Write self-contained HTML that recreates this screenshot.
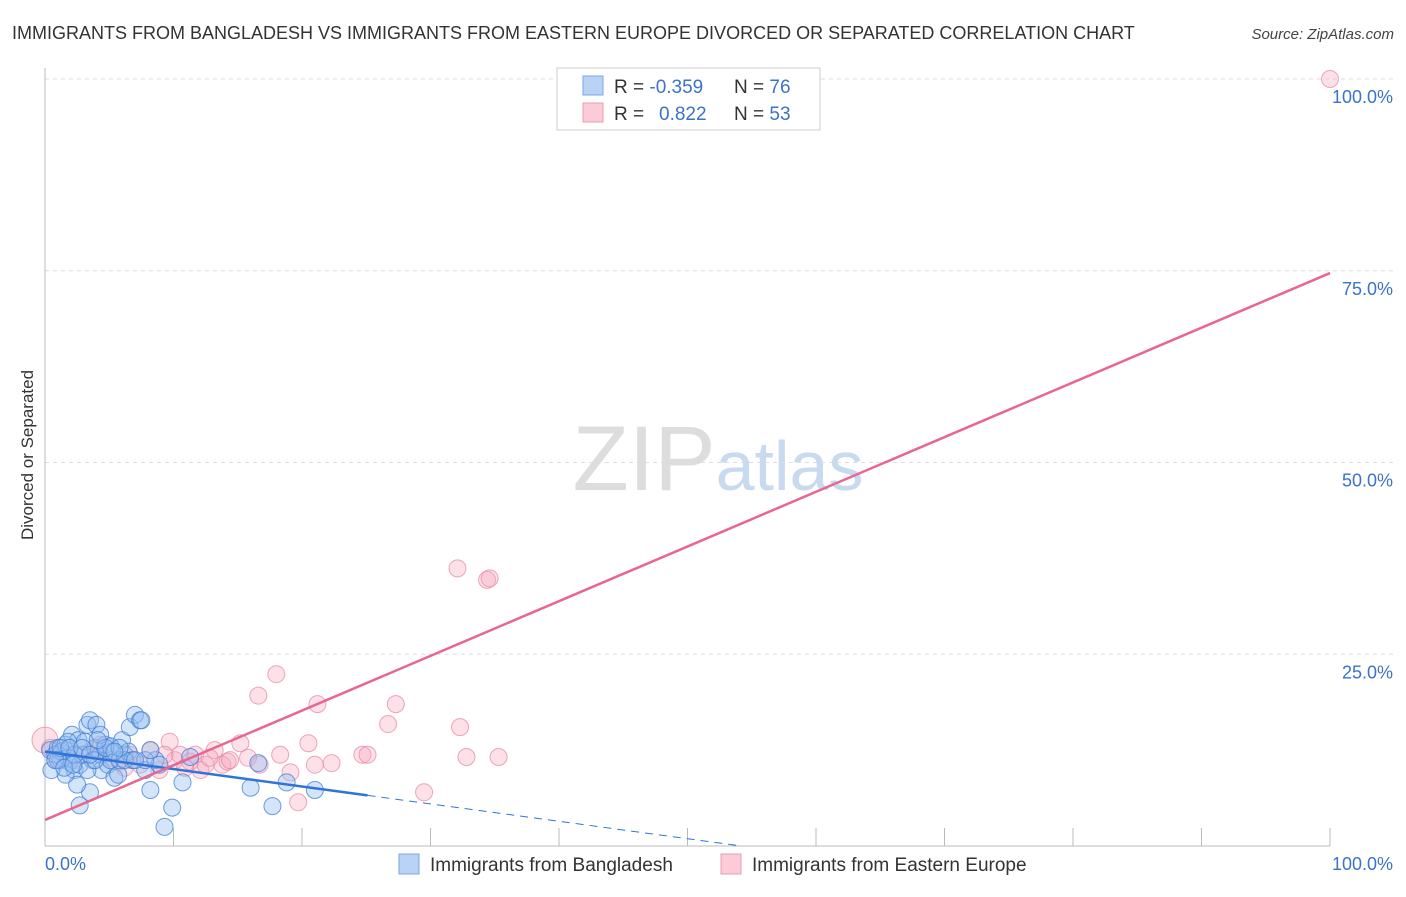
<!DOCTYPE html>
<html><head><meta charset="utf-8"><style>
body{margin:0;background:#fff;font-family:"Liberation Sans",sans-serif;}
svg text{font-family:"Liberation Sans",sans-serif;}
</style></head><body>
<svg id="chart" width="1406" height="892" xmlns="http://www.w3.org/2000/svg">
<text x="12" y="39" font-size="18" fill="#333">IMMIGRANTS FROM BANGLADESH VS IMMIGRANTS FROM EASTERN EUROPE DIVORCED OR SEPARATED CORRELATION CHART</text>
<text x="1394" y="39" font-size="15" fill="#444" font-style="italic" text-anchor="end">Source: ZipAtlas.com</text>
<text x="718" y="490" font-size="92" fill="#ddd" text-anchor="middle" font-family="Liberation Serif"><tspan fill="#ddd">ZIP</tspan><tspan fill="#c8daf0" font-family="Liberation Sans" font-size="70">atlas</tspan></text>
<g id="grid"></g>
<g id="axes"></g>
<g id="pts"></g>
<g id="lines"></g>
<text transform="translate(33,455) rotate(-90)" font-size="17" fill="#333" text-anchor="middle">Divorced or Separated</text>
<g>
<rect x="557" y="68" width="263" height="62" fill="#fff" stroke="#ccc"/>
<rect x="583" y="76" width="20" height="19" fill="#b8d3f5" stroke="#7aa8e6"/>
<rect x="583" y="103" width="20" height="19" fill="#fbcbd8" stroke="#ee9ab3"/>
<text x="614" y="93" font-size="19" fill="#333">R = <tspan fill="#3a73c9">-0.359</tspan><tspan x="734">N = </tspan><tspan fill="#3a73c9">76</tspan></text>
<text x="614" y="120" font-size="19" fill="#333">R = <tspan x="659" fill="#3a73c9">0.822</tspan><tspan x="734">N = </tspan><tspan fill="#3a73c9">53</tspan></text>
</g>
<g>
<rect x="399" y="854" width="20" height="20" fill="#b8d3f5" stroke="#7aa8e6"/>
<text x="430" y="871" font-size="19" fill="#333">Immigrants from Bangladesh</text>
<rect x="721" y="854" width="20" height="20" fill="#fbcbd8" stroke="#ee9ab3"/>
<text x="752" y="871" font-size="19" fill="#333">Immigrants from Eastern Europe</text>
</g>
</svg>
<script>
const yTicks=[25,50,75,100];
const yTickLabels=["25.0%","50.0%","75.0%","100.0%"];
const xLabels=["0.0%","100.0%"];
const blueX=[0.4,0.8,1.0,1.2,1.3,1.6,1.8,1.9,2.1,2.3,2.6,2.7,2.9,3.1,3.3,3.5,3.7,3.9,4.0,4.3,4.4,4.7,4.9,5.1,5.2,5.4,5.7,5.8,6.0,6.2,6.5,6.6,6.8,7.0,7.4,7.5,7.8,8.2,8.6,8.9,9.3,9.9,10.7,11.3,16.0,16.6,17.7,18.8,21.0,2.7,3.5,2.5,1.6,0.5,1.8,4.3,1.0,5.1,6.2,7.8,3.3,1.2,2.3,3.9,4.7,1.9,5.8,7.0,8.2,0.8,2.9,4.1,5.4,1.5,2.2,3.5];
const blueY=[12.5,11.9,12.8,11.2,12.3,13.2,11.5,11.0,14.5,9.9,13.8,10.6,11.9,13.6,15.8,16.4,11.2,12.8,15.8,11.9,9.9,13.2,10.6,11.2,12.3,8.9,9.3,11.2,13.8,11.9,12.3,15.5,11.2,17.1,16.4,16.4,9.9,7.3,11.2,10.6,2.5,5.0,8.3,11.6,7.6,10.8,5.2,8.3,7.3,5.3,7.0,8.0,9.3,9.9,13.6,14.5,11.2,13.0,11.2,11.2,9.9,12.8,11.9,11.2,12.8,12.8,12.8,11.2,12.5,11.2,12.8,13.8,12.3,10.2,10.6,11.9];
const pinkX=[0,0.4,1.2,2.3,3.1,3.9,5.1,5.8,6.6,7.4,8.2,8.9,9.7,10.1,10.5,11.3,11.7,12.1,12.5,13.2,13.8,14.2,15.2,15.8,16.6,16.7,18.0,18.3,19.1,19.7,20.5,21.0,21.2,22.3,24.7,25.1,26.7,27.3,29.5,32.1,32.3,32.8,34.4,34.6,35.3,100,0.8,4.3,6.2,14.4,12.8,10.9,9.3];
const pinkY=[13.8,12.8,12.3,11.2,11.9,12.5,11.5,11.0,11.9,10.6,12.5,9.9,13.6,11.2,11.9,11.0,11.9,9.9,10.6,12.5,10.6,11.0,13.4,11.5,19.6,10.6,22.4,11.9,9.6,5.7,13.4,10.6,18.5,10.8,11.9,11.9,15.9,18.5,7.0,36.2,15.5,11.6,34.7,34.9,11.6,100,11.2,13.2,10.2,11.2,11.5,10.2,11.9];
const blueFit=[12.3,-0.227];
const pinkFit=[3.4,0.713];
const blueSolidEnd=25.1;
const NS="http://www.w3.org/2000/svg";
const X0=45,X1=1330,Y0=846,Y100=79;
const sx=v=>X0+(X1-X0)*v/100;
const sy=v=>Y0-(Y0-Y100)*v/100;
function mk(tag,attrs,parent){const e=document.createElementNS(NS,tag);for(const k in attrs)e.setAttribute(k,attrs[k]);parent.appendChild(e);return e;}
const grid=document.getElementById('grid'),axes=document.getElementById('axes');
yTicks.forEach((t,i)=>{
 const l=mk('line',{x1:X0,x2:1394,y1:sy(t),y2:sy(t),stroke:'#ddd','stroke-dasharray':'4,4'},grid);
 
 
 const tx=mk('text',{x:1393,y:sy(t)+24,'font-size':18,fill:'#3a73c9','text-anchor':'end'},axes);
 tx.textContent=yTickLabels[i];
 
 
});
const ax=mk('line',{x1:X0,x2:X0,y1:68,y2:Y0,stroke:'#bbb'},axes);


const bx=mk('line',{x1:X0,x2:X1,y1:Y0,y2:Y0,stroke:'#bbb'},axes);


for(let i=1;i<=10;i++){const t=mk('line',{x1:sx(i*10),x2:sx(i*10),y1:Y0-18,y2:Y0,stroke:'#bbb'},axes);
 
 }
[[0,'start',45],[100,'end',1393]].forEach((a,i)=>{const t=mk('text',{x:a[2],y:870,'font-size':18,fill:'#3a73c9','text-anchor':a[1]},axes);t.textContent=xLabels[i];
 
 });
const pts=document.getElementById('pts');
pinkX.forEach((x,i)=>{const c=mk('circle',{cx:sx(x),cy:sy(pinkY[i]),r:i===0?13:8.5,fill:'rgba(246,170,192,0.35)',stroke:'rgba(232,130,160,0.7)','stroke-width':1},pts);
 
 });
blueX.forEach((x,i)=>{const c=mk('circle',{cx:sx(x),cy:sy(blueY[i]),r:8.5,fill:'rgba(150,190,240,0.4)',stroke:'rgba(60,125,215,0.75)','stroke-width':1},pts);
 
 });
const lines=document.getElementById('lines');
const bz=-blueFit[0]/blueFit[1];
const b1=mk('line',{x1:sx(0),y1:sy(blueFit[0]),x2:sx(blueSolidEnd),y2:sy(blueFit[0]+blueFit[1]*blueSolidEnd),stroke:'#2f74d8','stroke-width':2.5},lines);


const b2=mk('line',{x1:sx(blueSolidEnd),y1:sy(blueFit[0]+blueFit[1]*blueSolidEnd),x2:sx(bz),y2:sy(0),stroke:'#2f74d8','stroke-width':1,'stroke-dasharray':'8,6'},lines);


const p1=mk('line',{x1:sx(0),y1:sy(pinkFit[0]),x2:sx(100),y2:sy(pinkFit[0]+pinkFit[1]*100),stroke:'#e8668f','stroke-width':2.5},lines);


</script>
</body></html>
